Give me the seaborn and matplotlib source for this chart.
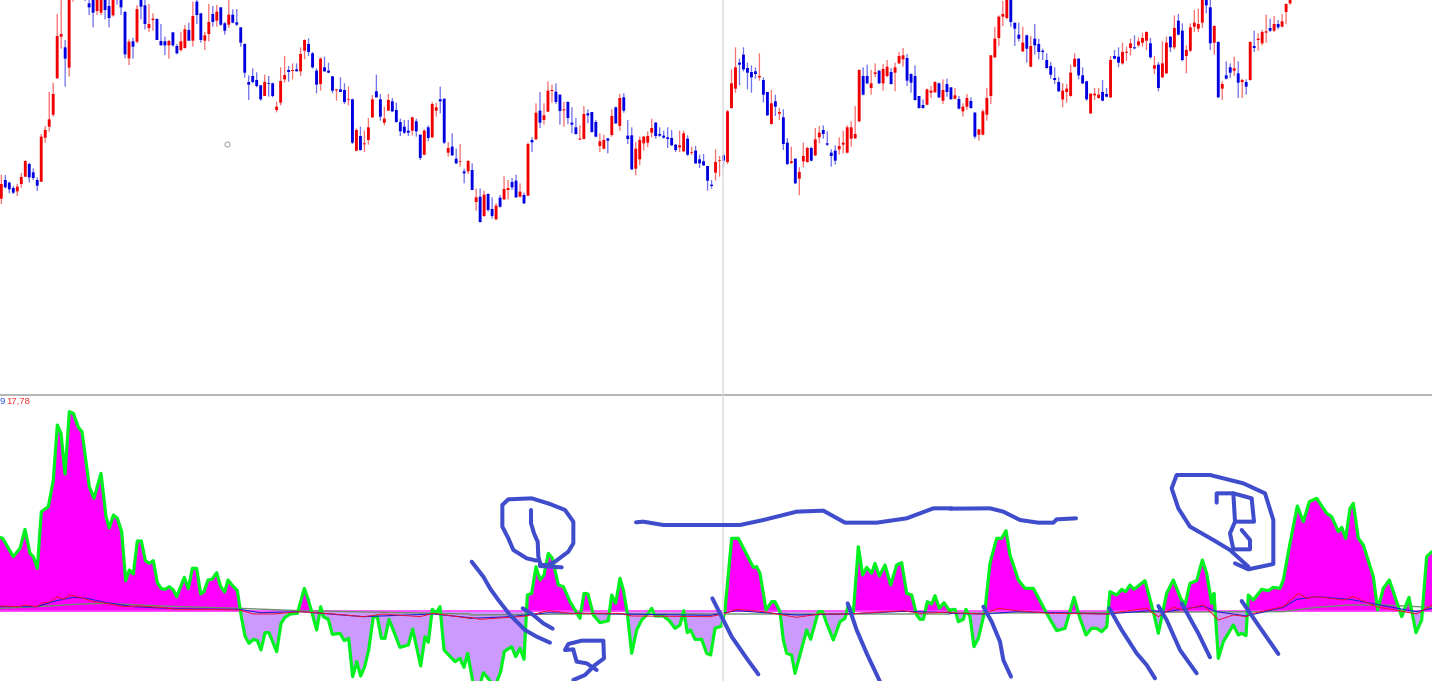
import numpy as np, pandas as pd
import matplotlib
matplotlib.use("Agg")
import matplotlib.pyplot as plt
import seaborn as sns

W, H = 1432, 681
# Candle rows: direction, body top, body bottom, wick top, wick bottom
CANDLES_LEFT = [
('R',552,596,525,612),('B',540,562,525,565),('B',548,568,545,580),('B',564,578,558,582),('R',560,574,552,588),
('R',531,552,519,563),('R',483,530,481,531),('B',492,532,488,548),('B',517,534,505,540),('B',540,557,532,573),
('R',410,545,402,545),('R',390,413,378,428),('R',358,380,276,395),('R',282,344,248,350),('R',108,235,42,236),
('R',102,110,-10,146),('B',142,176,120,260),('R',-10,203,-10,230),('R',-40,-20,-40,5),('B',-60,-30,-70,-10),
('R',-60,-30,-70,-10),('B',-40,-20,-50,3),('B',10,22,-5,45),('B',-5,38,-5,82),('R',-5,33,-5,45),
('R',-5,38,-5,45),('B',-5,30,-5,58),('B',18,54,-5,82),('R',-5,46,-5,50),('B',-30,-10,-30,14),
('B',-5,22,-5,45),('B',36,163,33,175),('R',125,175,118,195),('B',124,140,113,176),('R',27,125,15,130),
('B',-5,20,-5,58),('B',16,72,-5,88),('R',72,84,12,96),('R',56,60,40,92),('B',57,120,55,120),
('B',123,136,72,136),('B',124,136,110,165),('R',123,136,120,176),('B',97,136,97,140),('B',138,160,132,163),
('R',124,150,96,155),('R',88,144,75,146),('B',90,122,68,122),('R',48,122,5,140),('B',5,45,-5,72),
('B',40,120,40,128),('R',106,122,96,150),('R',66,102,12,124),('B',42,66,18,80),('R',35,62,15,80),
('B',22,74,22,78),('B',70,92,66,104),('R',44,74,-5,84),('B',44,68,28,70),('B',67,74,27,78),
('B',82,128,82,140),('B',132,218,130,233),('B',246,254,226,300),('B',228,246,205,250),('B',240,258,217,262),
('B',256,298,256,302),('R',246,288,224,288),('B',250,252,228,290),('B',250,288,248,292),('R',320,330,305,337),
('R',243,308,202,316),('R',225,238,168,248),('B',210,216,198,245),('R',210,213,190,238),('B',208,214,190,214),
('R',162,214,142,228),('R',120,152,118,178),('B',132,156,115,168),('B',160,202,156,206),('B',212,254,205,280),
('R',176,252,172,272),('B',202,214,170,216),('B',212,218,188,220),('B',229,272,228,280),('R',268,271,268,302),
('B',268,276,232,276),('B',270,306,250,312),('R',297,299,260,316),('B',298,428,296,432),('R',390,452,385,454),
('B',408,450,380,452),('R',430,433,392,456),('R',382,420,354,434),('R',298,352,285,354),('B',274,292,224,292),
('B',298,350,282,362),('R',356,368,320,376),('R',300,332,282,332),('B',304,334,294,336),('B',330,366,308,368),
('B',366,394,356,408),('B',380,398,360,402),('B',392,398,360,408),('R',352,392,350,406),('B',364,394,356,410),
('B',404,474,404,480),('R',392,464,388,466),('B',382,414,376,424),('R',312,412,306,414),('R',322,332,308,350),
('B',298,304,260,340),('B',296,428,296,432),('R',444,458,426,470),('B',440,466,400,468),('B',476,490,446,492),
('R',483,485,432,500),('B',514,520,506,550),('R',483,514,480,522),('B',510,570,490,570),('R',592,606,566,632),
('B',590,666,565,668)]
CANDLES_MID = [
('R',464,528,452,530),('B',462,510,460,515),('B',507,528,472,536),('R',497,538,490,540),('B',473,500,465,503),
('R',447,478,408,480),('R',444,450,420,478),('B',426,442,414,450),('B',422,472,404,474),('R',455,470,430,472),
('B',465,490,458,492),('R',312,467,308,468),('B',300,307,292,336),('R',218,298,190,300),('B',212,248,156,264),
('R',226,240,190,254),('R',152,215,124,216),('R',150,153,134,188),('B',155,186,130,192),('B',164,213,164,254),
('R',208,211,186,260),('B',186,234,184,252),('B',248,254,202,280),('B',262,282,234,284),('R',296,299,256,300),
('R',222,297,198,298),('B',220,226,208,250),('B',216,276,216,278),('B',246,290,240,292),('R',304,318,280,336),
('R',300,326,284,328),('B',295,302,295,340),('R',228,285,208,290),('B',202,250,200,252),('R',174,258,162,272),
('B',172,212,160,218),('B',287,297,240,312),('B',286,388,262,390),('R',326,386,306,406),('R',300,358,290,376),
('R',290,310,288,332),('R',288,308,274,322),('R',264,278,236,292),('B',248,288,246,296),('B',282,287,262,290),
('B',287,293,272,296),('B',292,297,262,324),('B',294,316,270,318),('B',314,330,312,336),('R',316,322,272,336),
('R',280,334,272,336),('B',296,344,286,348),('R',337,339,320,345),('B',332,370,318,372),('B',358,370,344,384),
('B',364,376,342,378),('B',378,422,378,452),('B',434,438,420,446),('R',366,398,328,422),('R',360,362,348,410),
('B',346,362,338,380),('R',214,366,210,372),('R',130,204,88,206),('R',82,146,22,158),('B',68,74,56,136),
('B',44,88,22,94),('B',84,98,68,148),('B',96,112,76,158),('B',94,102,82,116),('R',108,112,40,122),
('B',120,164,112,188),('B',156,226,156,228),('R',190,252,150,254),('B',184,200,164,228),('R',216,221,204,240),
('B',232,312,208,330),('B',308,372,294,376),('R',364,369,320,372),('B',356,430,356,432),('R',396,416,382,466),
('R',348,364,308,382),('R',324,366,320,368),('B',324,362,320,364),('R',298,346,264,348),('R',278,292,258,310),
('B',270,282,256,296),('B',310,314,274,318),('B',338,348,328,380),('B',332,362,316,374),('R',318,328,292,344),
('R',308,314,272,340),('R',262,338,256,340),('R',262,296,244,320),('R',282,295,198,296),('R',90,244,88,246),
('B',108,164,82,166),('B',108,130,74,132),('R',130,144,90,164),('R',97,102,70,112),('B',92,130,90,132),
('R',87,130,72,152),('R',80,108,60,112),('B',96,132,84,134),('R',82,98,68,154),('R',48,70,36,72),
('R',46,58,24,80),('B',54,122,42,138),('B',102,128,100,158),('B',108,180,76,182),('B',168,204,168,206),
('B',195,204,178,206),('R',148,194,146,196),('R',152,158,138,174),('R',126,157,124,158),('B',130,172,128,174),
('R',150,182,118,192),('B',132,156,116,170)]
CANDLES_RIGHT = [
('B',262,298,262,298),('R',286,296,264,298),('B',297,326,288,328),('R',320,334,310,350),('R',294,320,282,330),
('B',303,324,292,326),('B',338,410,336,416),('R',388,404,388,422),('R',334,404,328,406),('R',294,344,264,362),
('R',166,288,165,312),('R',116,172,80,174),('R',50,114,46,138),('R',42,50,3,78),('R',-10,54,-15,58),
('B',-5,66,-10,80),('B',68,86,68,138),('B',104,116,68,124),('R',128,154,80,156),('B',106,146,104,188),
('R',138,200,108,202),('B',116,136,72,164),('B',132,156,116,178),('B',152,156,146,180),('B',180,204,160,206),
('B',198,224,186,236),('B',234,240,202,252),('B',246,274,232,276),('R',272,298,250,322),('R',266,276,252,308),
('R',218,288,194,290),('R',176,200,160,202),('B',176,226,174,238),('B',226,250,202,252),('B',244,298,242,302),
('R',281,340,280,342),('R',281,286,264,300),('R',284,294,264,296),('B',276,302,240,304),('B',282,290,264,292),
('R',180,292,168,294),('B',168,176,150,178),('B',170,188,142,202),('R',156,190,128,194),('R',155,158,140,182),
('R',130,144,116,166),('B',142,145,106,148),('R',124,136,112,140),('R',114,128,98,140),('R',96,122,94,150),
('B',130,172,114,176),('R',196,206,168,222),('B',194,264,186,274),('R',190,232,124,234),('R',128,220,110,222),
('B',110,142,108,156),('R',84,142,46,148),('B',62,104,42,106),('B',92,180,70,184),('R',150,168,136,220),
('R',82,152,70,156),('R',68,80,30,96),('R',72,86,26,96),('R',-10,68,-15,84),('B',-5,16,-10,40),
('B',22,130,-5,150),('R',78,128,76,164),('B',126,292,124,294),('R',252,266,244,300),('B',226,236,184,238),
('B',202,218,190,234),('R',205,212,170,228),('B',220,248,184,294),('R',240,246,236,294),('B',246,260,238,284),
('R',126,240,124,242),('B',138,144,92,156),('R',116,120,100,152),('R',96,130,90,136),('R',94,98,44,128),
('B',84,92,56,96),('R',72,92,48,96),('B',72,82,60,88),('R',64,80,42,82),('R',12,36,10,72),('R',-5,10,-10,14)]

# Oscillator line vertices, one list per region
OSC_LEFT = [(0,442),(8,445),(40,500),(60,475),(75,418),(90,490),(100,500),(112,535),(124,365),(145,350),(160,270),(172,105),(183,130),(195,252),(208,65),(220,70),(235,112),(246,125),(268,290),(282,325),(303,250),(318,380),(328,414),(340,375),(352,385),(365,425),(377,572),(388,540),(400,552),(412,453),(424,453),(436,512),(448,520),(460,512),(472,578),(484,596),(496,598),(508,590),(520,600),(530,620),(553,562),(565,596),(577,535),(590,535),(602,612),(612,605),(624,570),(636,568),(650,548),(662,590),(674,606),(684,570),(696,585),(712,602),(724,680),(735,738),(747,760),(760,748),(772,752),(783,780),(795,728),(807,728),(830,785),(843,700),(855,682),(870,672),(892,670),(913,595),(925,630),(935,665),(950,720),(962,650),(970,680),(985,688),(997,733),(1020,730),(1033,752),(1046,745),(1058,860),(1070,815),(1082,858),(1094,830),(1106,780),(1120,680),(1132,680),(1144,745),(1155,745),(1167,688),(1200,772),(1225,765),(1238,717),(1262,828),(1275,740),(1285,757),(1297,658),(1308,670),(1320,650),(1332,780),(1365,815),(1380,805),(1392,832),(1403,790),(1418,873)]
OSC_MID = [(20,620),(40,548),(75,590),(92,545),(103,484),(125,470),(137,500),(150,475),(162,508),(172,315),(185,310),(198,230),(210,270),(222,255),(235,190),(247,205),(265,285),(280,290),(300,335),(330,385),(342,310),(354,312),(370,375),(390,398),(415,392),(425,315),(437,340),(450,265),(460,300),(472,370),(485,490),(500,420),(515,390),(535,370),(545,355),(555,378),(580,378),(598,392),(615,415),(630,405),(641,362),(652,428),(662,420),(675,448),(695,448),(710,490),(722,495),(735,415),(755,408),(765,360),(785,145),(805,145),(850,232),(860,230),(870,250),(888,360),(905,335),(915,335),(930,365),(940,450),(950,490),(965,495),(975,550),(1010,420),(1022,448),(1045,365),(1058,365),(1070,400),(1090,450),(1110,395),(1125,385),(1135,345),(1150,368),(1165,170),(1178,255),(1190,232),(1205,250),(1215,220),(1228,258),(1245,225),(1262,285),(1280,225),(1295,218),(1310,310),(1325,315),(1340,375),(1350,388),(1360,388),(1372,335),(1385,342),(1395,317),(1408,355),(1422,338),(1440,365)]
OSC_RIGHT = [(0,420),(15,418),(25,455),(40,448),(48,418),(60,440),(72,530),(85,505),(105,420),(120,280),(140,205),(155,205),(168,182),(180,255),(205,330),(225,355),(250,355),(290,430),(320,482),(345,475),(372,382),(390,445),(408,495),(425,475),(440,475),(455,485),(470,470),(480,365),(500,375),(515,358),(527,365),(540,345),(552,358),(585,332),(610,425),(625,490),(650,370),(670,330),(692,385),(705,405),(720,340),(740,332),(757,270),(770,310),(785,400),(792,370),(805,565),(820,515),(850,465),(865,495),(875,490),(888,497),(895,375),(910,390),(935,358),(955,362),(970,352),(990,355),(1000,330),(1020,220),(1042,108),(1060,155),(1078,95),(1100,85),(1130,130),(1145,140),(1165,185),(1175,172),(1187,205),(1200,115),(1210,100),(1225,205),(1240,225),(1270,320),(1283,420),(1300,355),(1318,330),(1355,440),(1377,382),(1398,488),(1415,450),(1430,260),(1446,245)]

RED_LEFT = [(0,648),(60,650),(75,645),(110,650),(125,640),(150,635),(172,620),(190,628),(210,615),(240,622),(280,635),(320,640),(370,650),(420,648),(480,652),(530,658),(600,658),(720,660),(760,672),(820,672),(900,665),(1000,672),(1090,680),(1150,672),(1260,680),(1300,670),(1410,685)]
RED_MID = [(0,382),(30,388),(120,382),(170,378),(235,362),(300,370),(450,370),(485,378),(720,380),(760,372),(800,358),(880,365),(980,382),(1050,372),(1130,372),(1300,362),(1350,370),(1440,366)]
RED_RIGHT = [(0,428),(100,432),(145,415),(200,422),(300,430),(470,432),(550,420),(590,415),(625,440),(670,412),(700,420),(760,405),(805,450),(850,435),(890,440),(900,432),(1000,410),(1045,370),(1070,385),(1100,380),(1180,390),(1210,380),(1280,410),(1400,432),(1446,405)]
BLUE_LEFT = [(0,650),(110,650),(170,632),(220,622),(260,625),(320,638),(400,650),(520,656),(720,658),(780,668),(900,665),(1090,680),(1300,672),(1410,683)]
BLUE_MID = [(0,385),(120,380),(235,368),(450,372),(720,376),(800,362),(980,375),(1130,372),(1300,364),(1440,368)]
BLUE_RIGHT = [(0,430),(100,432),(200,425),(470,432),(600,422),(650,425),(760,408),(800,425),(890,438),(1000,412),(1040,388),(1100,380),(1200,388),(1290,405),(1370,420),(1400,425),(1446,415)]
GRAY_LEFT = [(0,655),(150,648),(240,642),(320,640),(480,648),(720,655),(900,662),(1410,672)]
GRAY_MID = [(0,375),(300,372),(1440,372)]
GRAY_RIGHT = [(0,430),(900,425),(1000,425),(1100,412),(1200,405),(1300,405),(1446,412)]

# Hand-drawn pen strokes
PEN_MID = [
[(183,60),(183,100),(192,130),(203,155),(205,200),(212,225)],
[(210,228),(275,232)],
[(200,212),(170,205),(130,180),(115,145),(97,110),(97,45),(115,28),(185,25),(240,42),(285,60),(310,95),(310,160),(295,185),(255,215),(235,225),(210,225)],
[(5,215),(40,260),(60,295),(85,330),(120,375),(165,420),(200,440),(240,458)],
[(158,355),(190,375),(220,400),(248,416)],
[(310,480),(320,515),(350,520),(380,540)],
[(310,478),(285,480),(295,462),(335,452),(400,452),(402,505),(375,525),(345,555),(310,570)],
[(498,97),(520,95),(580,105),(810,105),(880,90),(980,65),(1060,62),(1125,98),(1220,98),(1310,85),(1390,55),(1445,55)],
[(727,325),(760,390),(785,440),(830,505),(865,553)],
[(1133,340),(1160,420),(1190,490),(1230,575)]]
PEN_RIGHT = [
[(0,116),(120,115),(160,125),(210,150),(265,158),(310,158),(320,148),(378,145)],
[(100,410),(125,455),(150,515),(160,570),(183,620)],
[(478,415),(515,480),(560,550),(590,585),(615,625)],
[(625,408),(650,450),(690,540),(740,610)],
[(695,400),(745,490),(780,562)],
[(875,393),(935,480),(985,552)],
[(855,280),(895,298),(970,282),(970,150),(945,70),(880,40),(780,15),(680,15),(665,55),(685,115),(720,170),(790,210),(840,240),(895,290)],
[(800,98),(800,70),(850,70),(905,85),(912,155),(855,155),(840,190),(850,238),(900,238),(900,210),(875,180)],
[(850,70),(855,155)]]

LABEL_A, LABEL_B = "9", "17,78"

# region origins of the readings (zoom factor 3)
def conv(pts, ox, oy):
    a = np.array(pts, float)
    return ox + a[:, 0] / 3, oy + a[:, 1] / 3

BASE = 611.5
X0, DX = 1.33, 3.99
to_bar = lambda px: (px - X0) / DX

rows = []
for lst, oy in ((CANDLES_LEFT, 0), (CANDLES_MID, 40), (CANDLES_RIGHT, 0)):
    for d, t, b, hi, lo in lst:
        rows.append((d, oy + t / 3, oy + b / 3, oy + hi / 3, oy + lo / 3))
df = pd.DataFrame(rows, columns=["dir", "top", "bottom", "high", "low"])
df["bar"] = np.arange(len(df))

def series(l, m, r):
    xs, ys = [], []
    for pts, ox, oy in ((l, 0, 390), (m, 470, 490), (r, 950, 470)):
        x, y = conv(pts, ox, oy)
        xs.append(x); ys.append(y)
    x = np.concatenate(xs); y = np.concatenate(ys)
    return pd.DataFrame({"bar": to_bar(x), "value": BASE - y})

osc = series(OSC_LEFT, OSC_MID, OSC_RIGHT)
red = series(RED_LEFT, RED_MID, RED_RIGHT)
blue = series(BLUE_LEFT, BLUE_MID, BLUE_RIGHT)
gray = series(GRAY_LEFT, GRAY_MID, GRAY_RIGHT)

sns.set_theme(style="white")
plt.rcParams['font.family'] = ['Liberation Sans', 'DejaVu Sans']
fig = plt.figure(figsize=(W / 100, H / 100), dpi=100, facecolor="white")
xlim = (to_bar(0), to_bar(W))

price = fig.add_axes([0, (H - 395) / H, 1, 395 / H])
price.set_xlim(xlim); price.set_ylim(395, 0)
osc_ax = fig.add_axes([0, 0, 1, (H - 396) / H])
osc_ax.set_xlim(xlim); osc_ax.set_ylim(BASE - H, BASE - 396)
top = fig.add_axes([0, 0, 1, 1])
top.set_xlim(0, W); top.set_ylim(H, 0)
for a in (price, osc_ax, top):
    a.axis("off"); a.patch.set_alpha(0)

COL = {"R": "#f00000", "B": "#0000e0"}
for d, g in df.groupby("dir"):
    wicks = price.vlines(g["bar"], g["high"], g["low"], color=COL[d], lw=0.95, alpha=0.55, zorder=2)
    wicks.set_snap(False)
    bars = price.bar(g["bar"], g["bottom"] - g["top"], bottom=g["top"], width=0.72, color=COL[d], lw=0, zorder=3)
    for p in bars:
        p.set_snap(False)
price.plot(to_bar(226.5), 144, "o", ms=3.6, mfc="white", mec="#a8a8a8", mew=0.8)

# oscillator fills
xx = osc["bar"].to_numpy(); yy = osc["value"].to_numpy()
osc_ax.fill_between(xx, yy, 0, where=yy >= 0, interpolate=True, color="#ff00ff", lw=0, zorder=1)
osc_ax.fill_between(xx, yy, 0, where=yy <= 0, interpolate=True, color="#cc99ff", lw=0, zorder=1)
osc_ax.axhline(0.6, color="#ff40ff", lw=1.2, zorder=1.5)
sns.lineplot(data=gray, x="bar", y="value", sort=False, estimator=None, color="#6f8f6f", lw=1.0, ax=osc_ax, zorder=2, legend=False)
sns.lineplot(data=osc, x="bar", y="value", sort=False, estimator=None, color="#00f020", lw=2.3, ax=osc_ax, zorder=3, legend=False)
sns.lineplot(data=blue, x="bar", y="value", sort=False, estimator=None, color="#2020d0", lw=0.8, ax=osc_ax, zorder=4, legend=False)
sns.lineplot(data=red, x="bar", y="value", sort=False, estimator=None, color="#f01030", lw=0.7, ax=osc_ax, zorder=5, legend=False)
osc_ax.set_xlabel(""); osc_ax.set_ylabel("")
osc_ax.set_xlim(xlim); osc_ax.set_ylim(BASE - H, BASE - 396)

# frame lines and pen marks
top.axhline(395, color="#a0a0a0", lw=1.1, zorder=1)
top.axvline(723, color="#dddddd", lw=1.1, zorder=1)
top.text(-0.5, 401, LABEL_A, color="#3050e0", fontsize=6.8, va="center", ha="left")
top.text(6, 401, LABEL_B, color="#f03030", fontsize=6.8, va="center", ha="left")
for strokes, ox, oy in ((PEN_MID, 470, 490), (PEN_RIGHT, 950, 470)):
    for s in strokes:
        px, py = conv(s, ox, oy)
        top.plot(px, py, color="#3f4ccc", lw=2.9, solid_capstyle="round", solid_joinstyle="round", zorder=6)

fig.savefig("out.png", dpi=100)
